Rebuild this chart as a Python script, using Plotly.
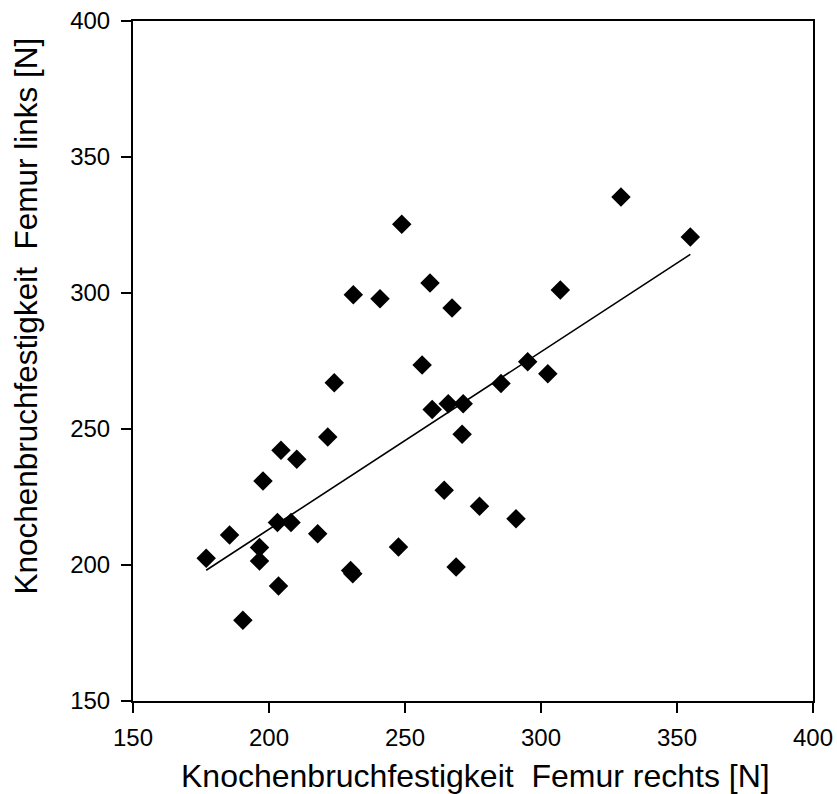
import plotly.graph_objects as go

femur_rechts = [176.9, 185.5, 190.4, 196.5, 196.5, 197.8, 203.1, 203.5, 204.4, 208.1,
                210.2, 217.9, 221.6, 224.0, 230.0, 230.8, 231.0, 240.8, 247.6, 248.8,
                256.3, 259.2, 260.0, 264.4, 265.9, 267.3, 268.8, 271.0, 271.4, 277.4,
                285.3, 290.8, 295.1, 302.5, 307.1, 329.4, 354.9]
femur_links = [202.5, 211.0, 179.7, 206.4, 201.5, 230.9, 215.6, 192.3, 242.2, 215.6,
               238.9, 211.5, 247.1, 267.0, 198.0, 196.8, 299.4, 297.9, 206.6, 325.3,
               273.5, 303.7, 257.2, 227.5, 259.3, 294.5, 199.3, 248.1, 259.3, 221.6,
               266.7, 217.0, 274.7, 270.3, 301.1, 335.3, 320.6]

# linear trend line as drawn in the reference (slope, intercept)
trend_slope = 0.6524
trend_intercept = 82.65

x_ticks = [150, 200, 250, 300, 350, 400]
y_ticks = [150, 200, 250, 300, 350, 400]
x_title = "Knochenbruchfestigkeit  Femur rechts [N]"
y_title = "Knochenbruchfestigkeit  Femur links [N]"

FONT = "Liberation Sans, Arial, Helvetica, sans-serif"

trend_x = [min(femur_rechts), max(femur_rechts)]
trend_y = [trend_slope * v + trend_intercept for v in trend_x]

fig = go.Figure()
fig.add_trace(go.Scatter(x=trend_x, y=trend_y, mode="lines",
                         line=dict(color="black", width=1.6), showlegend=False))
fig.add_trace(go.Scatter(x=femur_rechts, y=femur_links, mode="markers",
                         marker=dict(symbol="diamond", size=15, color="black"),
                         showlegend=False))

axis_common = dict(showline=True, linecolor="black", linewidth=2, mirror=True,
                   showgrid=False, zeroline=False, ticks="outside", ticklen=10,
                   tickwidth=1.5, tickcolor="black", automargin=False,
                   ticklabeloverflow="allow",
                   tickfont=dict(family=FONT, size=24, color="black"))

fig.update_layout(
    width=837, height=794,
    margin=dict(l=133, r=24, t=21, b=93),
    paper_bgcolor="white", plot_bgcolor="white",
    xaxis=dict(range=[150, 400], tickvals=x_ticks, ticklabelstandoff=4, **axis_common),
    yaxis=dict(range=[150, 400], tickvals=y_ticks, ticklabelstandoff=6, **axis_common),
    annotations=[
        dict(text=x_title, xref="paper", yref="paper", x=0.503, y=-0.1107,
             xanchor="center", yanchor="middle", showarrow=False,
             font=dict(family=FONT, size=32, color="black")),
        dict(text=y_title, xref="paper", yref="paper", x=-0.157, y=0.5657,
             xanchor="center", yanchor="middle", showarrow=False, textangle=-90,
             font=dict(family=FONT, size=31.5, color="black")),
    ],
)
# remove the default page margin so the figure fills the window exactly
fig.write_html("out.html", config={"displayModeBar": False},
               post_script="document.body.style.margin='0';document.body.style.overflow='hidden';")
